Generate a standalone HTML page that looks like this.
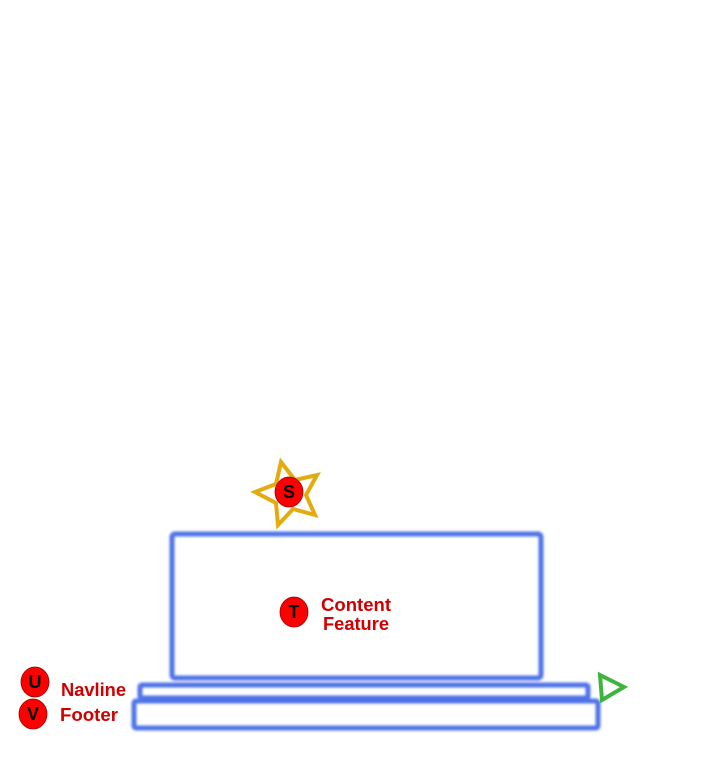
<!DOCTYPE html>
<html><head><style>
body{margin:0;background:#fff;width:724px;height:768px;overflow:hidden;font-family:"Liberation Sans",sans-serif}
</style></head><body>
<svg width="724" height="768" viewBox="0 0 724 768" xmlns="http://www.w3.org/2000/svg">
<defs><filter id="b" x="-5%" y="-20%" width="110%" height="140%"><feGaussianBlur stdDeviation="1.2"/></filter></defs>
<g fill="none" stroke="#3a63e6" stroke-width="5" filter="url(#b)" opacity="0.9">
<rect x="172" y="534" width="369" height="144" rx="3"/>
<rect x="140" y="685" width="448" height="13" rx="2"/>
<rect x="134" y="701" width="464" height="27" rx="2"/>
</g>
<polygon points="281,462 295,480 317,475 306,495 315,515 293,509 278,525 276,503 255,492 276,484" fill="none" stroke="#e3ab0e" stroke-width="4" stroke-linejoin="miter"/>
<polygon points="600,675 624,687 602,700" fill="none" stroke="#3db53d" stroke-width="4"/>
<g fill="#f00" stroke="#900" stroke-width="0.8">
<ellipse cx="289" cy="492" rx="14" ry="15"/>
<ellipse cx="294" cy="612" rx="14" ry="15"/>
<ellipse cx="35" cy="682" rx="14" ry="15"/>
<ellipse cx="33" cy="714" rx="14" ry="15"/>
</g>
<g font-family="Liberation Sans,sans-serif" font-weight="bold" font-size="18" text-anchor="middle">
<text x="289" y="498">S</text>
<text x="294" y="618">T</text>
<text x="35" y="688">U</text>
<text x="33" y="720">V</text>
</g>
<g font-family="Liberation Sans,sans-serif" font-weight="bold" font-size="18" fill="#d00000">
<text x="356" y="611" text-anchor="middle" textLength="70" lengthAdjust="spacingAndGlyphs">Content</text>
<text x="356" y="630" text-anchor="middle" textLength="66" lengthAdjust="spacingAndGlyphs">Feature</text>
<text x="61" y="696" textLength="65" lengthAdjust="spacingAndGlyphs">Navline</text>
<text x="60" y="721" textLength="58" lengthAdjust="spacingAndGlyphs">Footer</text>
</g>
</svg>
</body></html>
